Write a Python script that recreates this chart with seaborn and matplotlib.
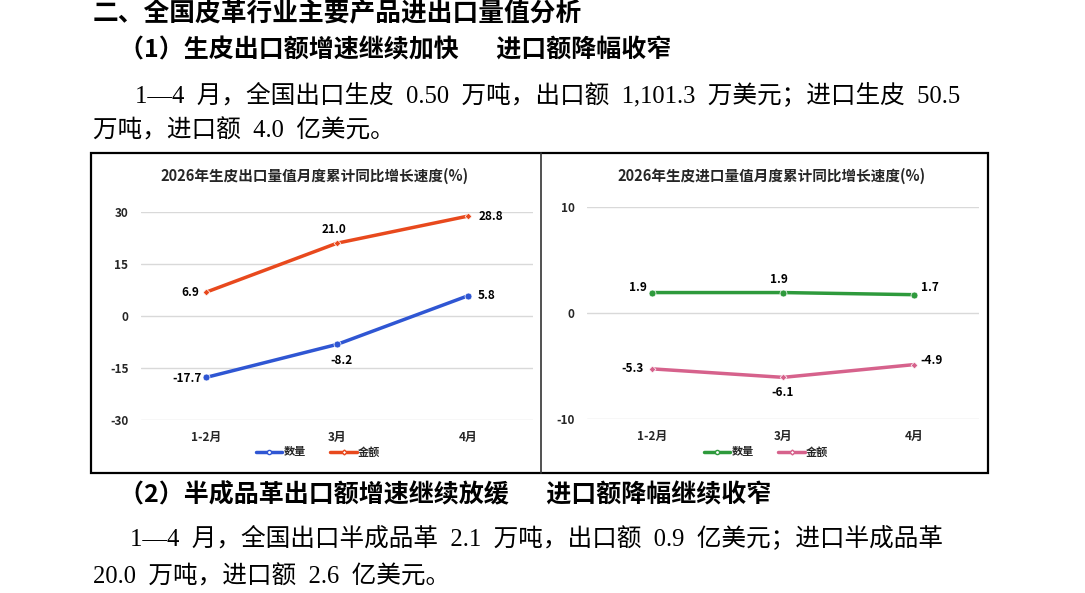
import matplotlib
matplotlib.use('Agg')
import matplotlib.pyplot as plt
from matplotlib.lines import Line2D
from matplotlib.patches import Rectangle
import pandas as pd
import seaborn as sns

# 数据
months = ['1-2月', '3月', '4月']
export_qty = [-17.7, -8.2, 5.8]
export_val = [6.9, 21.0, 28.8]
import_qty = [1.9, 1.9, 1.7]
import_val = [-5.3, -6.1, -4.9]

export_title = '2026年生皮出口量值月度累计同比增长速度(%)'
import_title = '2026年生皮进口量值月度累计同比增长速度(%)'
export_ticks = [-30, -15, 0, 15, 30]
import_ticks = [-10, 0, 10]

sns.set_theme(style='white')
plt.rcParams['font.family'] = ['Noto Sans CJK SC', 'DejaVu Sans']
plt.rcParams['axes.unicode_minus'] = False

W, H = 1085, 593
fig = plt.figure(figsize=(W / 100, H / 100), dpi=100)


def px(x, y):
    return x / W, 1 - y / H


# 正文：西文用衬线体模拟宋体里的数字，空格用半角宽度的 en space
body_font = ['Liberation Serif', 'Noto Sans CJK SC']
head_font = ['Noto Sans CJK SC', 'DejaVu Sans']
sp = '\u2002'
body = [
    (93, 14, '二、全国皮革行业主要产品进出口量值分析', 18.5, 'bold', head_font),
    (119, 50, f'（1）生皮出口额增速继续加快　{sp}进口额降幅收窄', 18, 'bold', head_font),
    (135, 95, f'1—4{sp}月，全国出口生皮{sp}0.50{sp}万吨，出口额{sp}1,101.3{sp}万美元；进口生皮{sp}50.5',
     17.75, 'normal', body_font),
    (93, 131, f'万吨，进口额{sp}4.0{sp}亿美元。', 17.75, 'normal', body_font),
    (119, 495, f'（2）半成品革出口额增速继续放缓　{sp}进口额降幅继续收窄', 18, 'bold', head_font),
    (130, 538, f'1—4{sp}月，全国出口半成品革{sp}2.1{sp}万吨，出口额{sp}0.9{sp}亿美元；进口半成品革',
     17.75, 'normal', body_font),
    (93, 577, f'20.0{sp}万吨，进口额{sp}2.6{sp}亿美元。', 17.75, 'normal', body_font),
]
for x, y, s, fs, fw, fam in body:
    fig.text(*px(x, y), s, fontsize=fs, fontweight=fw, family=fam,
             ha='left', va='center', color='black')

# 图框
fig.patches.append(Rectangle(px(91, 473), (988 - 91) / W, (473 - 153) / H, fill=False,
                             lw=1.6, edgecolor='black', transform=fig.transFigure))
fig.lines.append(Line2D([541 / W, 541 / W], [1 - 153 / H, 1 - 473 / H], lw=1.2,
                        color='#333333', transform=fig.transFigure))


def draw_chart(rect, title, title_xy, s1, s2, c1, c2, ticks, labels1, labels2, legend_xy):
    ax = fig.add_axes(rect)
    df = pd.DataFrame({'month': months, 'q': s1, 'v': s2})
    sns.lineplot(data=df, x='month', y='q', ax=ax, color=c1, lw=2.5, marker='o', ms=5,
                 mec='white', mew=0.5, sort=False, legend=False)
    sns.lineplot(data=df, x='month', y='v', ax=ax, color=c2, lw=2.5, marker='D', ms=3.5,
                 mec='white', mew=0.5, sort=False, legend=False)
    ax.set_xlim(-0.5, 2.5)
    ax.set_ylim(ticks[0], ticks[-1])
    ax.set_yticks(ticks)
    ax.set_xlabel('')
    ax.set_ylabel('')
    ax.grid(axis='y', color='#d9d9d9', lw=1)
    ax.grid(axis='x', visible=False)
    for spine in ax.spines.values():
        spine.set_visible(False)
    ax.tick_params(axis='both', length=0, labelsize=8.5)
    ax.tick_params(axis='y', pad=9)
    ax.tick_params(axis='x', pad=8)
    for lab in ax.get_xticklabels() + ax.get_yticklabels():
        lab.set_fontweight('bold')
    for series, offs in ((s1, labels1), (s2, labels2)):
        for i, val in enumerate(series):
            dx, dy, ha, va = offs[i]
            ax.annotate(f'{val:.1f}', (i, val), xytext=(dx, dy), textcoords='offset points',
                        ha=ha, va=va, fontsize=8.5, fontweight='bold', color='black')
    fig.text(*px(*title_xy), title, fontsize=10.5, fontweight='bold', ha='center', va='center')
    handles = [Line2D([], [], color=c1, lw=2.5, marker='o', ms=3, mfc='white', mec=c1),
               Line2D([], [], color=c2, lw=2.5, marker='D', ms=2.5, mfc='white', mec=c2)]
    fig.legend(handles, ['数量', '金额'], loc='center', bbox_to_anchor=px(*legend_xy),
               ncol=2, frameon=False, handlelength=2.4, handletextpad=0.1,
               columnspacing=2.2, prop={'weight': 'bold', 'size': 8})
    return ax


draw_chart([141 / W, 1 - 420 / H, 392 / W, 208 / H], export_title, (315, 176),
           export_qty, export_val, '#2f56d3', '#e8491d', export_ticks,
           [(-3, -1, 'right', 'center'), (3, -7, 'center', 'top'), (7, 0, 'left', 'center')],
           [(-5, 0, 'right', 'center'), (-2, 5, 'center', 'bottom'), (8, 0, 'left', 'center')],
           (318, 452))

draw_chart([587 / W, 1 - 418.7 / H, 392 / W, 212 / H], import_title, (772, 176),
           import_qty, import_val, '#2e9a3c', '#d6628c', import_ticks,
           [(-4, 4, 'right', 'center'), (-3, 5, 'center', 'bottom'), (5, 5, 'left', 'center')],
           [(-6, 0, 'right', 'center'), (0, -6, 'center', 'top'), (5, 3, 'left', 'center')],
           (766, 452))

fig.savefig('out.png', dpi=100)
